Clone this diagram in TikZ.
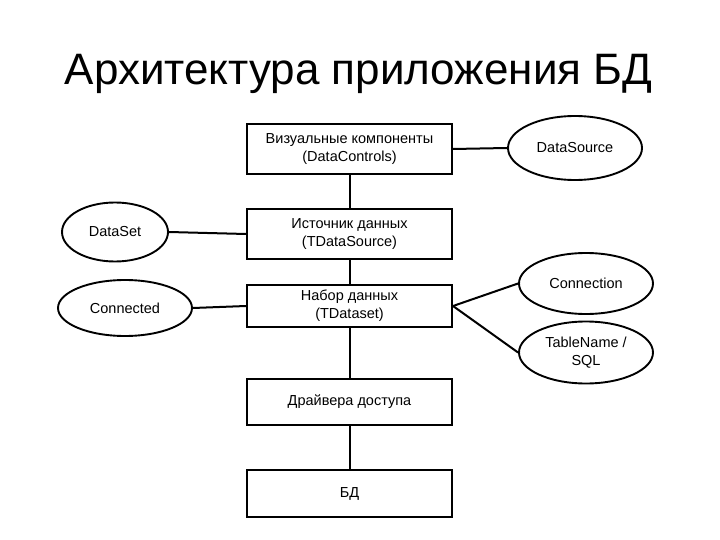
\documentclass[tikz,border=0pt]{standalone}
\usepackage{fontspec}
\setmainfont{Liberation Sans}
\usetikzlibrary{shapes.geometric}
\begin{document}
\begin{tikzpicture}[x=1pt,y=-1pt,
  every node/.style={font=\fontsize{14.5}{18}\selectfont, align=center, inner sep=0pt},
  layer/.style={draw, line width=2pt, minimum width=205pt, minimum height=#1},
  layer/.default=48pt,
  prop/.style={draw, ellipse, line width=1.9pt},
  link/.style={line width=2pt}]
\useasboundingbox (0,0) rectangle (720,540);
\node[font=\fontsize{44}{50}\selectfont, anchor=base] (title) at (358.5,85) {Архитектура приложения БД};
\node[layer=50pt] (vis) at (349.5,149) {Визуальные компоненты\\(DataControls)};
\node[layer=50pt] (src) at (349.5,234) {Источник данных\\(TDataSource)};
\node[layer=42pt] (set) at (349.5,306) {Набор данных\\(TDataset)};
\node[layer=46pt] (drv) at (349.5,402) {Драйвера доступа};
\node[layer=47pt] (db) at (349.5,493.5) {БД};
\node[prop, minimum width=134pt, minimum height=64pt] (dsrc) at (575,148) {DataSource};
\node[prop, minimum width=106pt, minimum height=59pt] (dset) at (115,232) {DataSet};
\node[prop, minimum width=134pt, minimum height=56pt] (conn) at (125,308) {Connected};
\node[prop, minimum width=134pt, minimum height=61pt] (cnx) at (586,283.5) {Connection};
\node[prop, minimum width=134pt, minimum height=62pt] (tbl) at (586,352.5) {TableName /\\SQL};
\draw[link] (vis) -- (src);
\draw[link] (src) -- (set);
\draw[link] (set) -- (drv);
\draw[link] (drv) -- (db);
\draw[link] (vis.east) -- (dsrc.west);
\draw[link] (dset.east) -- (src.west);
\draw[link] (conn.east) -- (set.west);
\draw[link] (set.east) -- (cnx.west);
\draw[link] (set.east) -- (tbl.west);
\end{tikzpicture}
\end{document}
